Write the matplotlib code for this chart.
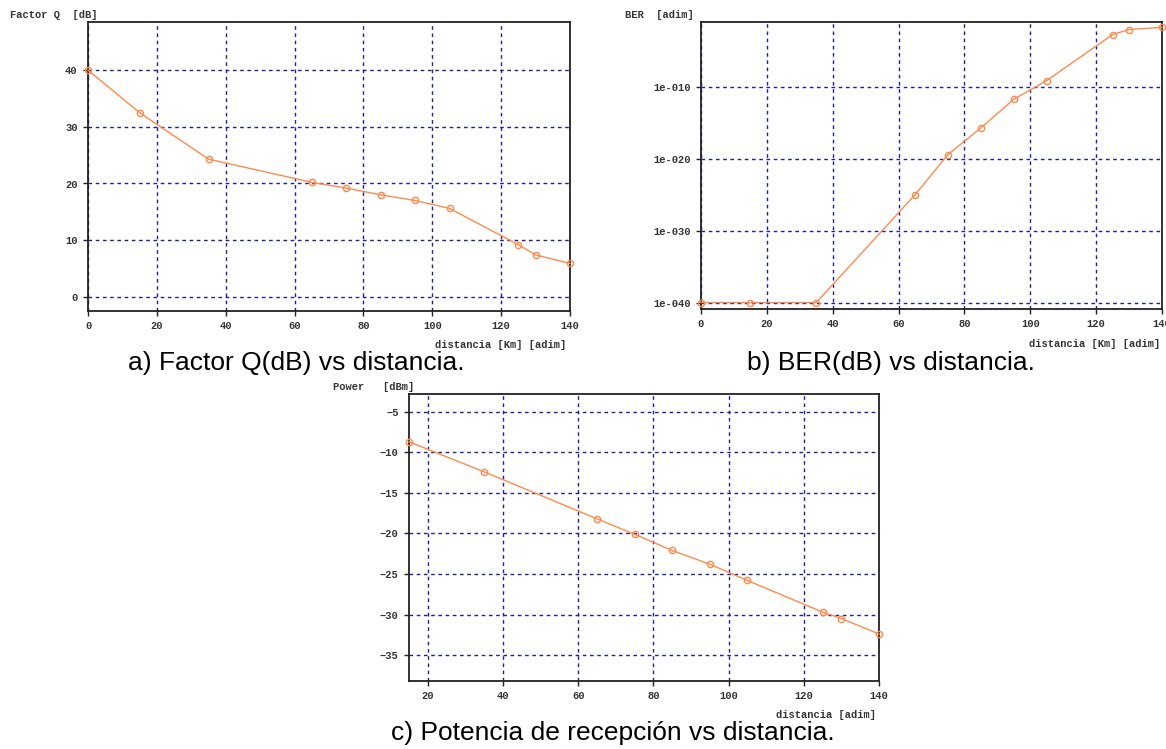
import matplotlib
matplotlib.use("Agg")
import matplotlib.pyplot as plt
from matplotlib.ticker import FixedLocator
from matplotlib.font_manager import FontProperties

# ---------------- data ----------------
dist_q = [0, 15, 35, 65, 75, 85, 95, 105, 125, 130, 140]
factor_q = [40.0, 32.5, 24.3, 20.2, 19.2, 18.0, 17.0, 15.6, 9.2, 7.4, 5.9]

dist_ber = [0, 15, 35, 65, 75, 85, 95, 105, 125, 130, 140]
ber = [1e-40, 1e-40, 1e-40, 1e-25, 4e-20, 2e-16, 2e-12, 8e-10, 2e-3, 1e-2, 2e-2]
ber_ticks = [1e-10, 1e-20, 1e-30, 1e-40]
ber_ticklabels = ["1e-010", "1e-020", "1e-030", "1e-040"]

dist_p = [15, 35, 65, 75, 85, 95, 105, 125, 130, 140]
power = [-8.7, -12.4, -18.2, -20.1, -22.1, -23.8, -25.8, -29.7, -30.5, -32.4]

q_yticks = [0, 10, 20, 30, 40]
p_yticks = [-35, -30, -25, -20, -15, -10, -5]
x_ticks = [0, 20, 40, 60, 80, 100, 120, 140]
p_xticks = [20, 40, 60, 80, 100, 120, 140]

captions = ["a) Factor Q(dB) vs distancia.",
            "b) BER(dB) vs distancia.",
            "c) Potencia de recepción vs distancia."]

# ---------------- style ----------------
W, H = 1166, 749
LINE = "#ff8a4c"
GRID = "#1f1f8f"
TXT = "#333333"
MONO = dict(family="Liberation Mono", weight="bold", size=7.5, color=TXT)

fig = plt.figure(figsize=(W / 100, H / 100), dpi=100)


def rect(l, r, t, b):
    return [l / W, 1 - b / H, (r - l) / W, (b - t) / H]


def style(ax):
    for s in ax.spines.values():
        s.set_color("#222222")
        s.set_linewidth(1.3)
    ax.tick_params(axis="both", which="major", length=3.5, width=1.0,
                   color="#222222", labelcolor=TXT, pad=4)
    ax.tick_params(axis="both", which="minor", length=0)
    for lab in ax.get_xticklabels() + ax.get_yticklabels():
        lab.set_fontproperties(FontProperties(
            family="Liberation Mono", weight="bold", size=7.5))
        lab.set_color(TXT)
    ax.grid(True, which="major", color=GRID, linestyle=(0, (2.6, 2.6)), linewidth=1.0)
    ax.set_axisbelow(True)


def draw(ax, x, y):
    ax.plot(x, y, color=LINE, linewidth=1.0, marker="o", markersize=4.5,
            markerfacecolor="none", markeredgecolor=LINE, markeredgewidth=1.0,
            clip_on=False, zorder=3)


# ---- a) Factor Q ----
ax1 = fig.add_axes(rect(88, 570, 22, 311))
draw(ax1, dist_q, factor_q)
ax1.set_xlim(0, 140)
ax1.set_ylim(-2.5, 48.5)
ax1.set_xticks(x_ticks)
ax1.set_yticks(q_yticks)
style(ax1)
fig.text(10 / W, 1 - 15 / H, "Factor Q  [dB]", ha="left", va="center", **MONO)
fig.text(566 / W, 1 - 345 / H, "distancia [Km] [adim]", ha="right", va="center", **MONO)

# ---- b) BER ----
ax2 = fig.add_axes(rect(701, 1162, 22, 309))
draw(ax2, dist_ber, ber)
ax2.set_yscale("log")
ax2.set_xlim(0, 140)
ax2.set_ylim(10 ** -40.9, 10 ** -0.95)
ax2.set_xticks(x_ticks)
ax2.yaxis.set_major_locator(FixedLocator(ber_ticks))
ax2.yaxis.set_minor_locator(FixedLocator([]))
ax2.set_yticklabels(ber_ticklabels)
style(ax2)
fig.text(625 / W, 1 - 15 / H, "BER  [adim]", ha="left", va="center", **MONO)
fig.text(1160 / W, 1 - 344 / H, "distancia [Km] [adim]", ha="right", va="center", **MONO)

# ---- c) Power ----
ax3 = fig.add_axes(rect(409, 879, 394, 681))
draw(ax3, dist_p, power)
ax3.set_xlim(15, 140)
ax3.set_ylim(-38.2, -2.8)
ax3.set_xticks(p_xticks)
ax3.set_yticks(p_yticks)
style(ax3)
fig.text(333 / W, 1 - 387 / H, "Power   [dBm]", ha="left", va="center", **MONO)
fig.text(876 / W, 1 - 715 / H, "distancia [adim]", ha="right", va="center", **MONO)

# ---- captions ----
CAP = dict(family="Liberation Sans", size=19, color="black", ha="center", va="center")
fig.text(296 / W, 1 - 363 / H, captions[0], **CAP)
fig.text(891 / W, 1 - 363 / H, captions[1], **CAP)
fig.text(613 / W, 1 - 733 / H, captions[2], **CAP)

fig.savefig("out.png", dpi=100, facecolor="white")
